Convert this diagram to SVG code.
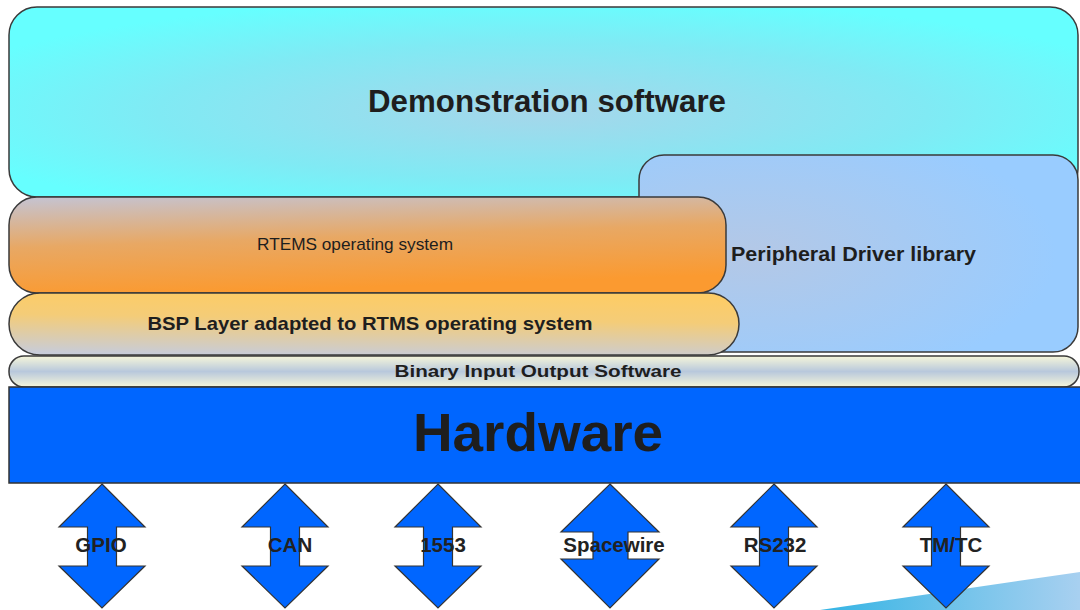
<svg xmlns="http://www.w3.org/2000/svg" width="1080" height="610" viewBox="0 0 1080 610">
<defs>
<radialGradient id="gDemo" cx="0.5" cy="0.55" r="0.6">
<stop offset="0" stop-color="#a6d6ea"/>
<stop offset="0.6" stop-color="#80eaf4"/>
<stop offset="1" stop-color="#66ffff"/>
</radialGradient>
<radialGradient id="gPer" cx="0.25" cy="0.5" r="0.7">
<stop offset="0" stop-color="#b4c8e6"/>
<stop offset="1" stop-color="#99ccff"/>
</radialGradient>
<linearGradient id="gRtems" x1="0" y1="0" x2="0.25" y2="1">
<stop offset="0" stop-color="#c4c4d4"/>
<stop offset="0.5" stop-color="#e8a864"/>
<stop offset="1" stop-color="#fb9a30"/>
</linearGradient>
<linearGradient id="gBsp" x1="0.3" y1="1" x2="0.45" y2="0">
<stop offset="0" stop-color="#c8ccd8"/>
<stop offset="0.6" stop-color="#f4cc78"/>
<stop offset="1" stop-color="#fdcc66"/>
</linearGradient>
<linearGradient id="gBin" x1="0" y1="0" x2="0" y2="1">
<stop offset="0" stop-color="#f6f6da"/>
<stop offset="0.5" stop-color="#b8c8dc"/>
<stop offset="1" stop-color="#f6f6da"/>
</linearGradient>
<linearGradient id="gSwoosh" x1="0" y1="0" x2="1" y2="0">
<stop offset="0" stop-color="#34b4e4"/>
<stop offset="1" stop-color="#a8d0f0"/>
</linearGradient>
<path id="arr" d="M0,484 L43,527 L14.5,527 L14.5,566 L43,566 L0,608 L-43,566 L-14.5,566 L-14.5,527 L-43,527 Z"/>
</defs>
<style>
.box{stroke:#3a3a3a;stroke-width:1.5}
.t{font-family:"Liberation Sans",Arial,sans-serif;fill:#1e1e1e}
.b{font-weight:bold}
.arrow{fill:#0066ff;stroke:#333;stroke-width:1.2}
.lbl{font-family:"Liberation Sans",Arial,sans-serif;font-weight:bold;font-size:20.5px;fill:#222;text-anchor:middle}
</style>
<rect width="1080" height="610" fill="#ffffff"/>

<g id="demo">
<rect class="box" x="9" y="7" width="1069" height="190" rx="28" fill="url(#gDemo)"/>
<text class="t b" x="547" y="112" font-size="31" text-anchor="middle" textLength="358" lengthAdjust="spacingAndGlyphs">Demonstration software</text>
</g>

<g id="peripheral">
<rect class="box" x="639" y="155" width="439" height="197" rx="25" fill="url(#gPer)"/>
<text class="t b" x="731" y="261" font-size="20" textLength="245" lengthAdjust="spacingAndGlyphs">Peripheral Driver library</text>
</g>

<g id="rtems">
<rect class="box" x="9" y="197" width="717" height="96" rx="28" fill="url(#gRtems)"/>
<text class="t" x="355" y="250" font-size="17" fill="#333" text-anchor="middle" textLength="196" lengthAdjust="spacingAndGlyphs">RTEMS operating system</text>
</g>

<g id="bsp">
<rect class="box" x="9" y="293" width="730" height="62" rx="31" fill="url(#gBsp)"/>
<text class="t b" x="370" y="330" font-size="19" text-anchor="middle" textLength="445" lengthAdjust="spacingAndGlyphs">BSP Layer adapted to RTMS operating system</text>
</g>

<g id="bios">
<rect class="box" x="9" y="356" width="1070" height="31" rx="15" fill="url(#gBin)"/>
<text class="t b" x="538" y="377" font-size="17" text-anchor="middle" textLength="287" lengthAdjust="spacingAndGlyphs">Binary Input Output Software</text>
</g>

<g id="hardware">
<rect x="9" y="387" width="1080" height="96" fill="#0066ff" stroke="#333" stroke-width="1.5"/>
<text class="t b" x="538" y="451" font-size="53" fill="#000" text-anchor="middle" textLength="250" lengthAdjust="spacingAndGlyphs">Hardware</text>
</g>

<polygon id="swoosh" points="820,610 1080,572 1080,610" fill="url(#gSwoosh)"/>

<g id="connectors">
<use href="#arr" class="arrow" transform="translate(102,0)"/>
<use href="#arr" class="arrow" transform="translate(285,0)"/>
<use href="#arr" class="arrow" transform="translate(438,0)"/>
<path class="arrow" d="M610,484 L659,532 L628,532 L628,559 L659,559 L610,608 L561,559 L593,559 L593,532 L561,532 Z"/>
<use href="#arr" class="arrow" transform="translate(774,0)"/>
<use href="#arr" class="arrow" transform="translate(946,0)"/>
</g>

<g id="labels">
<text class="lbl" x="101" y="552">GPIO</text>
<text class="lbl" x="290" y="552">CAN</text>
<text class="lbl" x="443" y="552">1553</text>
<text class="lbl" x="614" y="552">Spacewire</text>
<text class="lbl" x="775" y="552">RS232</text>
<text class="lbl" x="951" y="552">TM/TC</text>
</g>
</svg>
